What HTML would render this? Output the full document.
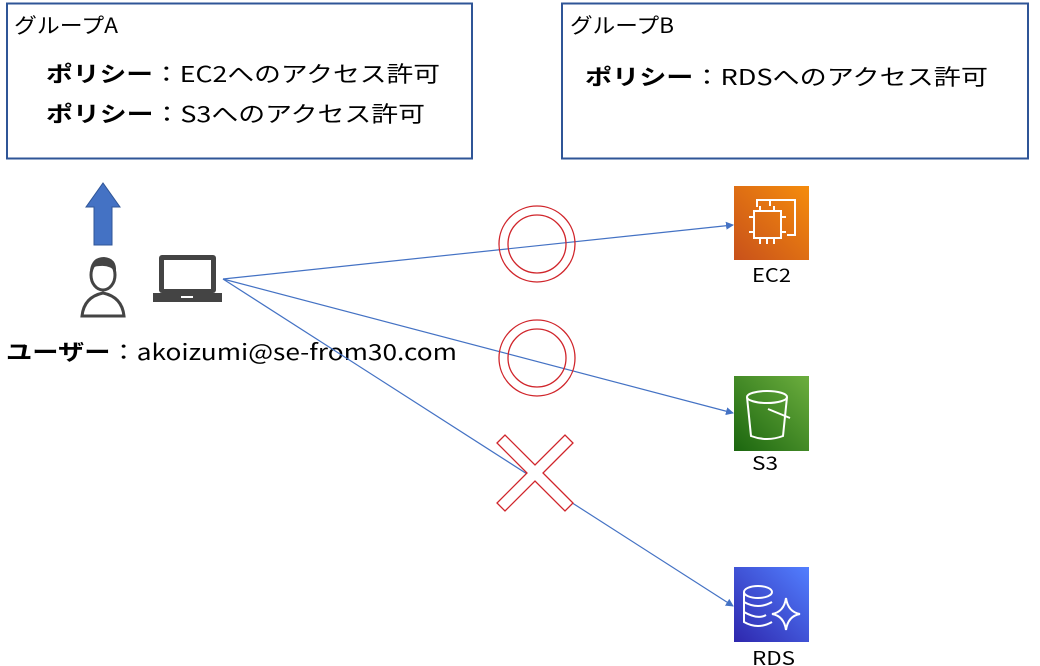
<!DOCTYPE html>
<html><head><meta charset="utf-8"><style>
body{margin:0;width:1040px;height:666px;background:#fff;overflow:hidden;font-family:"Noto Sans CJK JP","Liberation Sans",sans-serif;}
text{font-family:"Noto Sans CJK JP","Liberation Sans",sans-serif;}
</style></head><body>
<svg width="1040" height="666" xmlns="http://www.w3.org/2000/svg" style="position:absolute;left:0;top:0">
<defs>
<marker id="ar" markerWidth="8" markerHeight="8" refX="7" refY="4" orient="auto" markerUnits="userSpaceOnUse"><path d="M0,0 L8,4 L0,8 Z" fill="#4472c4"/></marker>
<linearGradient id="g1" x1="0" y1="1" x2="1" y2="0"><stop offset="0" stop-color="#c8511b"/><stop offset="1" stop-color="#f58c0c"/></linearGradient>
<linearGradient id="g2" x1="0" y1="1" x2="1" y2="0"><stop offset="0" stop-color="#1b660f"/><stop offset="1" stop-color="#6cae3e"/></linearGradient>
<linearGradient id="g3" x1="0" y1="1" x2="1" y2="0"><stop offset="0" stop-color="#2e27ad"/><stop offset="1" stop-color="#527fff"/></linearGradient>
</defs>
<rect x="7" y="3.5" width="465" height="155" fill="none" stroke="#2f5597" stroke-width="2"/>
<rect x="562" y="3.5" width="466" height="155" fill="none" stroke="#2f5597" stroke-width="2"/>
<text x="14" y="33" font-size="21" fill="#000" textLength="104" lengthAdjust="spacingAndGlyphs">グループA</text>
<text x="46" y="82" font-size="22" fill="#000" textLength="394" lengthAdjust="spacingAndGlyphs"><tspan font-weight="bold">ポリシー</tspan>：EC2へのアクセス許可</text>
<text x="46" y="122" font-size="22" fill="#000" textLength="379" lengthAdjust="spacingAndGlyphs"><tspan font-weight="bold">ポリシー</tspan>：S3へのアクセス許可</text>
<text x="570" y="33" font-size="21" fill="#000" textLength="104" lengthAdjust="spacingAndGlyphs">グループB</text>
<text x="585" y="85" font-size="22" fill="#000" textLength="403" lengthAdjust="spacingAndGlyphs"><tspan font-weight="bold">ポリシー</tspan>：RDSへのアクセス許可</text>
<path d="M94,245 V207 H86 L103,183 L120,207 H112 V245 Z" fill="#4472c4" stroke="#2f5597" stroke-width="1"/>
<g fill="#fff" stroke="#444" stroke-width="3">
<path d="M82,316 Q84,297 103,293 Q122,297 124,316 Z"/>
<ellipse cx="103" cy="275" rx="12" ry="15"/>
</g>
<path d="M90,270 Q92,257 104,257 Q117,258 116,272 Q110,265 100,266 Q93,266 90,270 Z" fill="#444"/>
<rect x="159" y="255" width="57" height="38" rx="3" fill="#444"/>
<rect x="164" y="260" width="47" height="29" fill="#fff"/>
<path d="M153,293 H222 L222,302 H153 Z" fill="#444"/>
<rect x="181" y="296" width="12" height="2" fill="#fff"/>
<text x="6" y="360" font-size="22" fill="#000" textLength="451" lengthAdjust="spacingAndGlyphs"><tspan font-weight="bold">ユーザー</tspan>：akoizumi@se-from30.com</text>
<g stroke="#4472c4" stroke-width="1.2" fill="none" marker-end="url(#ar)">
<line x1="223" y1="279" x2="733" y2="225"/>
<line x1="223" y1="279" x2="733" y2="413"/>
<line x1="223" y1="279" x2="733" y2="606"/>
</g>
<g fill="none" stroke="#d0252b" stroke-width="1.3">
<circle cx="537" cy="244" r="38"/><circle cx="537" cy="244" r="29"/>
<circle cx="537" cy="358" r="38"/><circle cx="537" cy="358" r="29"/>
</g>
<path d="M497,443 L505,435 L535,465 L565,435 L573,443 L543,473 L573,503 L565,511 L535,481 L505,511 L497,503 L527,473 Z" fill="#fff" stroke="#d0252b" stroke-width="1.3"/>
<rect x="734" y="186" width="75" height="74" fill="url(#g1)"/>
<g fill="none" stroke="#fff" stroke-width="2"><path d="M757,207 V200 H795 V235 H787"/><path d="M770,200 V206"/><rect x="754" y="211" width="27" height="27"/><path d="M760,238 v6 M767,238v6 M774,238v6 M760,211v-5 M774,211v-5 M754,217h-5 M754,232h-5 M781,217h5 M781,232h5"/></g>
<rect x="734" y="376" width="75" height="75" fill="url(#g2)"/>
<g fill="none" stroke="#fff" stroke-width="2"><ellipse cx="767" cy="397" rx="20" ry="6"/><path d="M747,397 L751,436 Q767,442 783,436 L787,397"/><path d="M768,409 L790,418"/></g>
<rect x="734" y="567" width="75" height="75" fill="url(#g3)"/>
<g fill="none" stroke="#fff" stroke-width="2"><ellipse cx="758" cy="592" rx="14" ry="6"/><path d="M744,592 V622 Q758,630 772,622 M744,602 Q758,610 772,602 M744,612 Q758,620 766,615"/><path d="M786,598 Q788,612 800,614 Q788,616 786,630 Q784,616 772,614 Q784,612 786,598 Z"/></g>
<text x="752" y="282" font-size="19" textLength="39" lengthAdjust="spacingAndGlyphs">EC2</text>
<text x="752" y="470" font-size="19" textLength="26" lengthAdjust="spacingAndGlyphs">S3</text>
<text x="752" y="665" font-size="19" textLength="43" lengthAdjust="spacingAndGlyphs">RDS</text>
</svg>
</body></html>
